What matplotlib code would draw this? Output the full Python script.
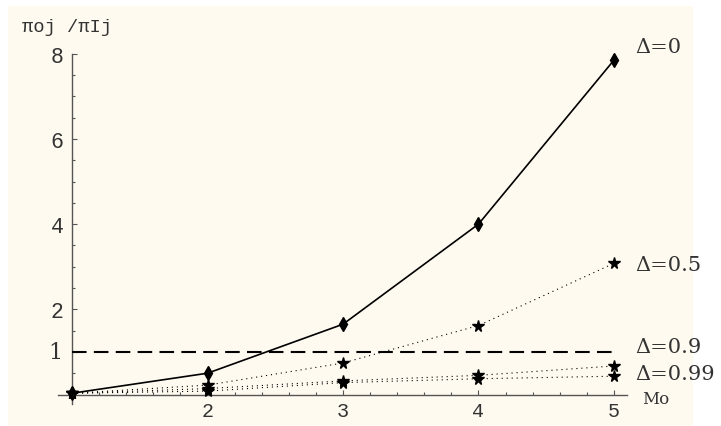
import matplotlib
matplotlib.use("Agg")
import matplotlib.pyplot as plt
from matplotlib.patches import Rectangle
from matplotlib.ticker import FixedLocator
import numpy as np

# data
mo = [1, 2, 3, 4, 5]
ratio_d0 = [0.03, 0.50, 1.65, 4.0, 7.85]
ratio_d05 = [0.03, 0.22, 0.74, 1.62, 3.08]
ratio_d09 = [0.03, 0.14, 0.32, 0.45, 0.67]
ratio_d099 = [0.03, 0.08, 0.28, 0.37, 0.43]
labels = ["\u0394=0", "\u0394=0.5", "\u0394=0.9", "\u0394=0.99"]
label_y = [8.18, 3.06, 1.12, 0.50]
y_ticks = [2, 4, 6, 8]
x_ticks = [2, 3, 4, 5]

mono = "Liberation Mono"
serif = "DejaVu Serif"
ink = "#333333"
axis_col = "#555555"

fig = plt.figure(figsize=(7.21, 4.27), dpi=100, facecolor="white")
# cream background panel like the original graphic
fig.patches.append(Rectangle((8 / 721, 0), (693 - 8) / 721, 420 / 427,
                             transform=fig.transFigure, facecolor="#fffaf0",
                             edgecolor="none", zorder=-5))

ax = fig.add_axes([0, 0, 1, 1], zorder=2)
ax.set_facecolor("none")
ax.set_xlim(0.4686, 5.7897)
ax.set_ylim(-0.739, 9.284)

for s in ["top", "right"]:
    ax.spines[s].set_visible(False)
ax.spines["left"].set_position(("data", 1))
ax.spines["bottom"].set_position(("data", 0))
ax.spines["left"].set_bounds(-0.22, 8)
ax.spines["bottom"].set_bounds(0.897, 5.096)
for s in ["left", "bottom"]:
    ax.spines[s].set_color(axis_col)
    ax.spines[s].set_linewidth(1.0)

ax.xaxis.set_major_locator(FixedLocator(x_ticks))
ax.xaxis.set_minor_locator(FixedLocator(np.arange(1.2, 5.01, 0.2)))
ax.yaxis.set_major_locator(FixedLocator(y_ticks + [1]))
ax.yaxis.set_minor_locator(FixedLocator(np.arange(0.5, 8.01, 0.5)))
ax.set_yticklabels([str(v) for v in y_ticks] + [""])
ax.tick_params(which="both", direction="in", colors=axis_col, width=0.8)
ax.tick_params(which="major", length=3.6)
ax.tick_params(which="minor", length=2.0)
ax.tick_params(axis="x", which="major", pad=5, labelsize=14.5, labelcolor=ink)
ax.tick_params(axis="y", which="major", pad=6, labelsize=15.5, labelcolor=ink)
for t in ax.get_xticklabels() + ax.get_yticklabels():
    t.set_fontfamily(mono)

# the "1" label is in a serif face
ax.text(0.93, 1, "1", fontsize=16, family=serif, color=ink,
        ha="right", va="center")

# curves
ax.plot(mo, ratio_d0, color="black", lw=1.2, marker="d", markersize=7,
        zorder=5, clip_on=False)
for vals in [ratio_d05, ratio_d09, ratio_d099]:
    ax.plot(mo, vals, color="black", lw=0.8, linestyle=(0, (1, 3.5)),
            marker="*", markersize=8.5, zorder=4, clip_on=False)

# reference level at 1
ax.plot([1, 5], [1, 1], color="black", lw=1.5, dashes=(7, 3.5), zorder=3)

for txt, yv in zip(labels, label_y):
    ax.text(5.16, yv, txt, fontsize=15, family=serif, color=ink,
            ha="left", va="center")

ax.text(5.21, -0.1, "Mo", fontsize=12, family=serif, color=ink,
        ha="left", va="center")
fig.text(22 / 721, 1 - 27 / 427, "\u03c0oj /\u03c0Ij", fontsize=13.5,
         family=mono, color=ink, ha="left", va="center")

fig.savefig("out.png", dpi=100, facecolor="white")
